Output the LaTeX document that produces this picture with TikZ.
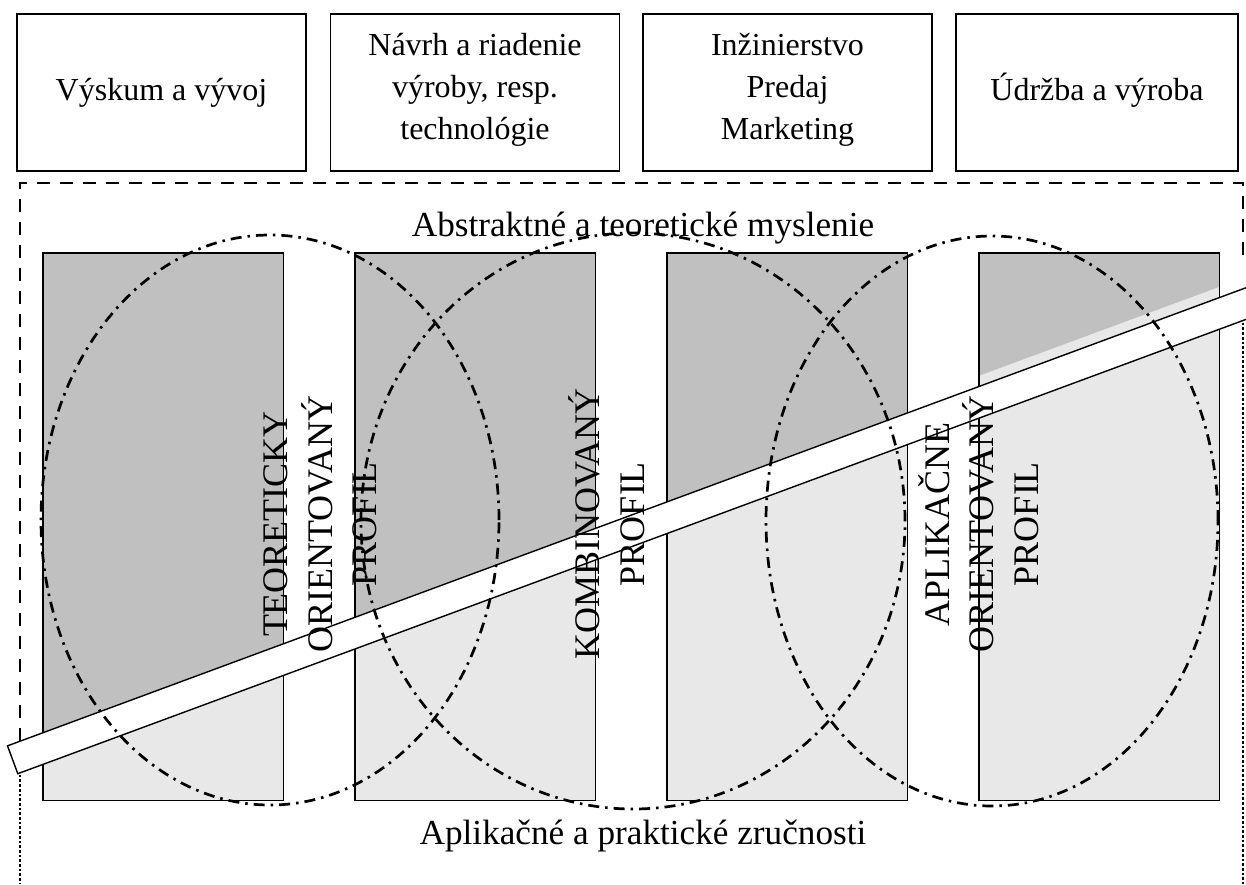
\documentclass[tikz,border=0pt]{standalone}
\usepackage{fontspec}
\setmainfont{Liberation Serif}
\usetikzlibrary{shapes.geometric}
\definecolor{uppershade}{RGB}{192,192,192}
\definecolor{lowershade}{RGB}{232,232,232}

\begin{document}
\begin{tikzpicture}[x=1pt,y=-1pt,
  topbox/.style={draw,line width=1.4pt,minimum height=157pt,inner sep=0pt},
  boxtext/.style={font=\fontsize{32}{42}\selectfont,align=center,inner sep=0pt},
  colbox/.style={fill=lowershade,minimum width=240pt,minimum height=547pt,inner sep=0pt},
  colframe/.style={draw,line width=1.4pt},
  frameline/.style={line width=2.7pt,dash pattern=on 13pt off 10pt},
  framedots/.style={line width=2.7pt,dash pattern=on 2.7pt off 2pt},
  profile/.style={ellipse,draw,line width=2.7pt,dash pattern=on 11pt off 6pt on 2.5pt off 6pt,inner sep=0pt},
  vtext/.style={rotate=90,font=\fontsize{36}{44.5}\selectfont,align=center,inner sep=0pt},
  band/.style={draw,fill=white,line width=1.4pt,rotate=20.3,minimum width=1400pt,minimum height=29.7pt,inner sep=0pt,anchor=west},
  axistext/.style={font=\fontsize{35.2}{42}\selectfont,inner sep=0pt,anchor=base}
]
\useasboundingbox (0,0) rectangle (1246,884);
\clip (0,0) rectangle (1246,884);

% outer frame: dashed above the band, dotted below it
\draw[frameline] (20,741) -- (20,183) -- (1243,183) -- (1243,258);
\draw[framedots] (20,770) -- (20,884);
\draw[framedots] (1243,318) -- (1243,884);

% slanted band (placed first so its edges can bound the shading)
\path node[band,draw=none,fill=none] (bar) at (12,760) {};

% four columns, light shade
\node[colbox] (c1) at (163,526.5) {};
\node[colbox] (c2) at (475,526.5) {};
\node[colbox] (c3) at (787,526.5) {};
\node[colbox] (c4) at (1099,526.5) {};

% darker shade above the band
\begin{scope}
  \clip (c1.north west) rectangle (c1.south east)
        (c2.north west) rectangle (c2.south east)
        (c3.north west) rectangle (c3.south east);
  \fill[uppershade] (bar.north west) -- (bar.north east)
        -- (bar.north east |- 0,0) -- (bar.north west |- 0,0) -- cycle;
\end{scope}
\begin{scope}
  \clip (c4.north west) rectangle (c4.south east);
  \fill[uppershade] ([yshift=10pt]bar.north west) -- ([yshift=10pt]bar.north east)
        -- (bar.north east |- 0,0) -- (bar.north west |- 0,0) -- cycle;
\end{scope}
\foreach \c in {c1,c2,c3,c4}
  \draw[colframe] (\c.north west) rectangle (\c.south east);

% top row of boxes
\node[topbox,minimum width=289pt] (b1) at (161.5,92.5) {};
\node[topbox,minimum width=289pt] (b2) at (475,92.5) {};
\node[topbox,minimum width=289pt] (b3) at (787.5,92.5) {};
\node[topbox,minimum width=282pt] (b4) at (1097,92.5) {};
\node[boxtext,anchor=base] (l1) at (161.5,100) {Výskum a vývoj};
\node[boxtext] (l2) at (475,90) {Návrh a riadenie\\výroby, resp.\\technológie};
\node[boxtext] (l3) at (787.5,90) {Inžinierstvo\\Predaj\\Marketing};
\node[boxtext,anchor=base] (l4) at (1097,100) {Údržba a výroba};

% slanted band drawn over the columns
\node[band] (barface) at (12,760) {};

% profile ellipses
\node[profile,minimum width=458pt,minimum height=570pt] (e1) at (270,520) {};
\node[profile,minimum width=544pt,minimum height=576pt] (e2) at (633,521) {};
\node[profile,minimum width=452pt,minimum height=570pt] (e3) at (992,521) {};

% profile names
\node[vtext] (p1) at (320.5,524) {TEORETICKY\\ORIENTOVANÝ\\PROFIL};
\node[vtext] (p2) at (606.5,524) {KOMBINOVANÝ\\PROFIL};
\node[vtext] (p3) at (978.5,524) {APLIKAČNE\\ORIENTOVANÝ\\PROFIL};

% axis labels
\node[axistext] (top) at (643,236) {Abstraktné a teoretické myslenie};
\node[axistext] (bottom) at (643,844) {Aplikačné a praktické zručnosti};
\end{tikzpicture}
\end{document}
